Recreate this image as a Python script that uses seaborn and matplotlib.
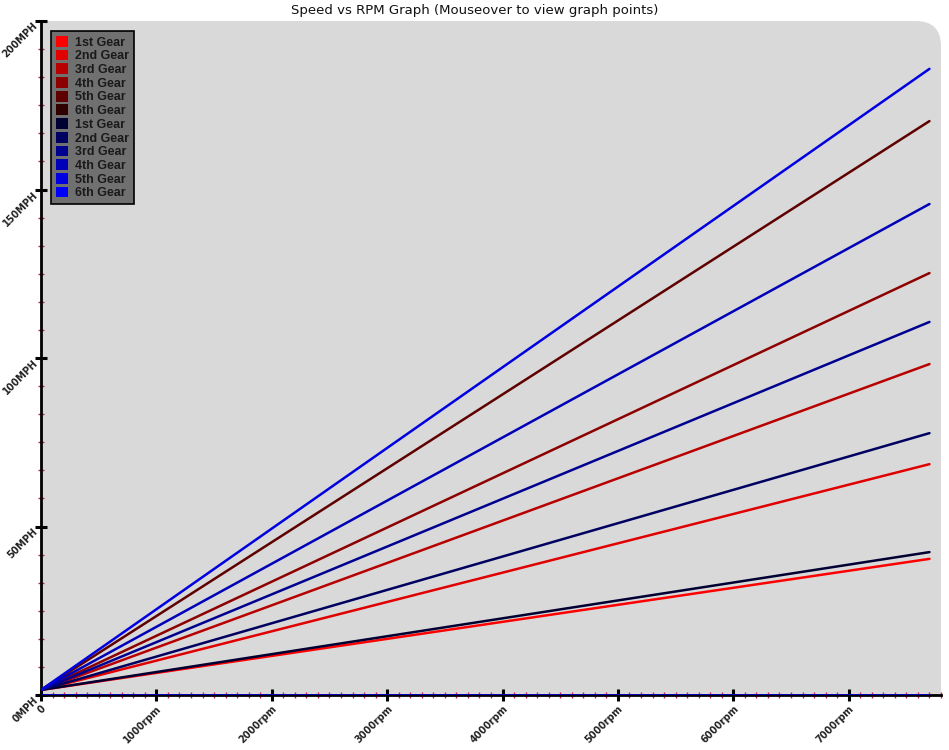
"""
Speed vs RPM graph - two cars, gear by gear speed at redline.
"""

import numpy as np
import pandas as pd
import matplotlib
matplotlib.use("Agg")
import matplotlib.pyplot as plt
import seaborn as sns
from matplotlib.patches import FancyBboxPatch, Rectangle, Patch
from matplotlib.ticker import MultipleLocator, FixedLocator

# ------------------------------------------------------------------
# Data
# ------------------------------------------------------------------
GEARS = ["1st Gear", "2nd Gear", "3rd Gear", "4th Gear", "5th Gear", "6th Gear"]
RPM_POINTS = [0, 7700]
START_MPH = 1.5
RED_TOP_MPH = [40.4, 68.5, 98.2, 125.2, 170.3, 0.0]
BLUE_TOP_MPH = [42.4, 77.7, 110.7, 145.7, 185.8, 0.0]
RED_COLORS = ["#ff0000", "#e00000", "#b80000", "#8c0000", "#5e0000", "#300000"]
BLUE_COLORS = ["#000033", "#000060", "#000090", "#0000b8", "#0000e0", "#0000ff"]
X_TICKS = [0, 1000, 2000, 3000, 4000, 5000, 6000, 7000]
X_LABELS = ["0", "1000rpm", "2000rpm", "3000rpm", "4000rpm", "5000rpm", "6000rpm", "7000rpm"]
Y_TICKS = [0, 50, 100, 150, 200]
Y_LABELS = ["0MPH", "50MPH", "100MPH", "150MPH", "200MPH"]

rows = []
for car, tops in (("red", RED_TOP_MPH), ("blue", BLUE_TOP_MPH)):
    for gear, top in zip(GEARS, tops):
        start = START_MPH if top > 0 else 0.0
        for rpm, mph in zip(RPM_POINTS, [start, top]):
            rows.append({"series": f"{car} {gear}", "rpm": rpm, "mph": mph})
df = pd.DataFrame(rows)

series_order = [f"red {g}" for g in GEARS] + [f"blue {g}" for g in GEARS]
palette = dict(zip(series_order, RED_COLORS + BLUE_COLORS))

# ------------------------------------------------------------------
# Figure
# ------------------------------------------------------------------
sns.set_style("white")
plt.rcParams["font.family"] = ["DejaVu Sans"]

fig = plt.figure(figsize=(9.49, 7.5), dpi=100)
ax = fig.add_axes([41 / 949, 55 / 750, 900 / 949, 674 / 750])
ax.set_facecolor("none")

# gray plot background with rounded top-right corner
bg = "#d9d9d9"
ax.add_patch(FancyBboxPatch((0, 0), 1, 1, boxstyle="round,pad=0,rounding_size=0.028",
                            mutation_aspect=900 / 674, transform=ax.transAxes,
                            facecolor=bg, edgecolor="none", zorder=0))
ax.add_patch(Rectangle((0, 0), 0.97, 1, transform=ax.transAxes,
                       facecolor=bg, edgecolor="none", zorder=0))
ax.add_patch(Rectangle((0, 0), 1, 0.96, transform=ax.transAxes,
                       facecolor=bg, edgecolor="none", zorder=0))

sns.lineplot(data=df, x="rpm", y="mph", hue="series", hue_order=series_order,
             palette=palette, linewidth=1.8, legend=False, ax=ax, zorder=3)

ax.set_xlim(0, 7800)
ax.set_ylim(0, 200)
ax.set_xlabel("")
ax.set_ylabel("")

ax.xaxis.set_major_locator(FixedLocator(X_TICKS))
ax.yaxis.set_major_locator(FixedLocator(Y_TICKS))
ax.xaxis.set_minor_locator(MultipleLocator(100))
ax.yaxis.set_minor_locator(MultipleLocator(50 / 6))
ax.set_xticklabels(X_LABELS)
ax.set_yticklabels(Y_LABELS)

ax.tick_params(which="both", bottom=True, left=True)
ax.tick_params(which="major", direction="inout", length=9, width=2.2, color="black",
               labelsize=6.9, pad=1.5)
ax.tick_params(which="minor", direction="inout", length=4, width=1, color="#cc2244")
for lbl in ax.get_xticklabels() + ax.get_yticklabels():
    lbl.set_rotation(45)
    lbl.set_ha("right")
    lbl.set_va("top")
    lbl.set_rotation_mode("anchor")
    lbl.set_fontweight("bold")
    lbl.set_color("#222222")

for side in ["top", "right"]:
    ax.spines[side].set_visible(False)
for side in ["left", "bottom"]:
    ax.spines[side].set_color("black")
    ax.spines[side].set_linewidth(2)
    ax.spines[side].set_zorder(2)

fig.suptitle("Speed vs RPM Graph (Mouseover to view graph points)",
             x=0.5, y=0.995, va="top", fontsize=9.5, color="#111111")

handles = [Patch(facecolor=palette[s], edgecolor="none") for s in series_order]
labels = [s.split(" ", 1)[1] for s in series_order]
leg = ax.legend(handles, labels, loc="upper left", bbox_to_anchor=(10 / 900, 1 - 10 / 674),
                borderaxespad=0, frameon=True, fancybox=False, framealpha=1,
                facecolor="#707070", edgecolor="black", handlelength=0.95,
                handleheight=0.95, handletextpad=0.6, labelspacing=0.08, borderpad=0.4,
                prop={"weight": "bold", "size": 9, "family": "Liberation Sans"})
leg.get_frame().set_linewidth(1.2)
leg.set_zorder(5)
for t in leg.get_texts():
    t.set_color("#1a1a1a")

fig.savefig("out.png", dpi=100)
